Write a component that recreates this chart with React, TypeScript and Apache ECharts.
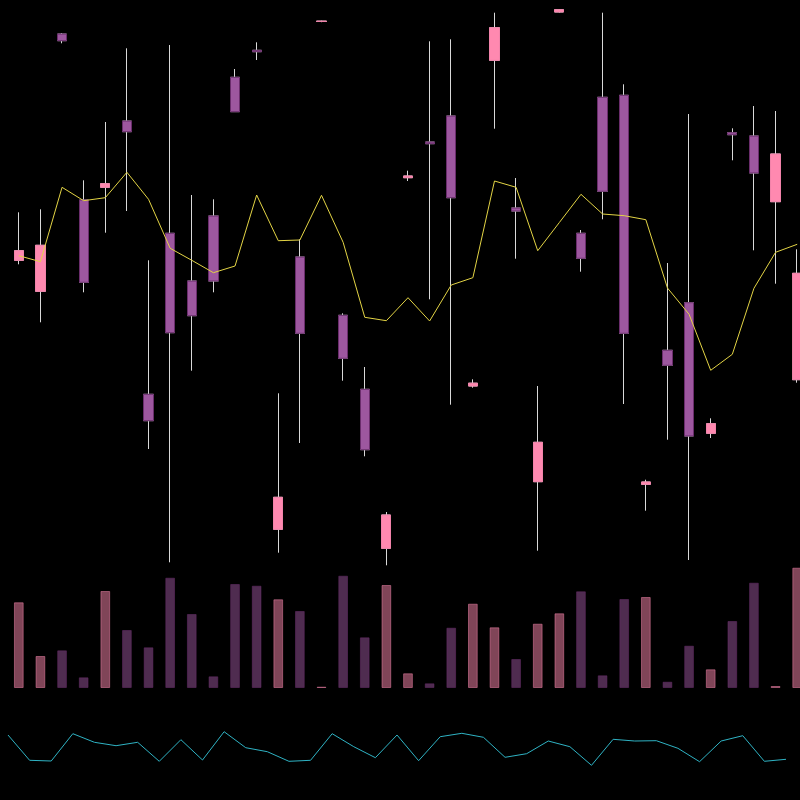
import React, { useEffect, useRef } from "react";
import * as echarts from "echarts";

const categories = [
  "1", "2", "3", "4", "5", "6", "7", "8", "9", "10", "11", "12", "13", "14", "15", "16", "17", "18", "19",
  "20", "21", "22", "23", "24", "25", "26", "27", "28", "29", "30", "31", "32", "33", "34", "35", "36", "37",
];

const opens = [339.7, 308.7, 566, 400, 412.7, 479, 205.7, 366.7, 319, 384, 522.7, 549.7, 70.7, 343, 578.5, 284.7, 210.7, 51.7, 422.3, 458, 484, 214, 539.7, 392, 118.3, 588, 366.7, 502.7, 504.7, 115.7, 249.7, 297.3, 166.7, 467.3, 464, 398.3, 220.3];
const closes = [349.3, 354.7, 559.3, 317.7, 416.3, 468.3, 179.3, 267.3, 284.3, 319, 488.3, 548.3, 102.7, 266.7, 578.9, 241.7, 150.3, 85, 424, 456.3, 402.3, 216.8, 572.3, 389, 157.7, 590.3, 341.7, 408.7, 266.7, 118, 234.7, 164, 176.3, 465.3, 427, 446, 326.7];
const lows = [335.7, 277.7, 556.7, 307.7, 367.3, 389, 151, 37.7, 229.3, 307.7, 488, 540, 47.3, 157, 577.8, 219.3, 143.7, 34.7, 419, 300.7, 195.3, 212.3, 471.3, 341.3, 49.3, 587.5, 328.3, 380.7, 196, 89.3, 160.3, 40, 162, 439.7, 349.7, 316.3, 217.3];
const highs = [387.7, 390.7, 567, 419.7, 478, 551.7, 339.7, 555, 405, 400.7, 531, 557.7, 206.7, 360.7, 579.3, 286.7, 233, 88, 429.3, 558.7, 560.7, 220.7, 587.3, 422, 214, 591, 370, 587.3, 515.7, 120.3, 337, 486, 181.7, 471.7, 494, 489, 350.7];

const maLine = [344.3, 338.3, 412.7, 399.3, 402.3, 427.7, 400.7, 351.7, 339.7, 327.3, 334, 405, 359.3, 360, 404.7, 357.7, 282.7, 279.3, 302.3, 279, 315, 322.3, 419, 412.7, 349.3, 377.5, 405.7, 386, 384.3, 380.3, 312, 285.7, 229.7, 245.7, 311.7, 347.7, 355.7];

const volumes = [85.7, 32, 37.7, 10.7, 97, 58, 40.7, 110.3, 74, 11.7, 104, 102.3, 88.7, 77, 1.3, 112.3, 50.7, 103, 14.7, 4.7, 60.3, 84.3, 60.7, 29, 64.3, 74.7, 96.7, 12.7, 89, 91, 6.3, 42.3, 18.7, 67, 105.3, 2, 120.3];

const indicator = [65, 39.7, 39, 66.3, 57.7, 54.3, 57.7, 38.7, 60.3, 40, 68.3, 52.3, 48.3, 38.7, 39.7, 66.3, 53.3, 42.3, 65, 39.3, 63.3, 66.7, 62.7, 42.7, 46.3, 59, 53.3, 34.7, 60.7, 59, 59.3, 51.7, 38.3, 59, 64.3, 38.7, 40.7];

const UP = "#ff89b0";
const UP_BORDER = "#f283aa";
const DOWN = "#9d579f";
const DOWN_BORDER = "#6a2d6c";
const WICK = "#d9d9d9";

export default function App() {
  const ref = useRef<HTMLDivElement>(null);

  useEffect(() => {
    document.body.style.margin = "0";
    document.body.style.background = "#000";
    document.documentElement.style.background = "#000";
    if (!ref.current) return;
    const chart = echarts.init(ref.current, null, { renderer: "svg" });

    const fullData = categories.map((_, i) => [opens[i], closes[i], lows[i], highs[i]]);
    const bodyData = categories.map((_, i) => [
      opens[i],
      closes[i],
      Math.min(opens[i], closes[i]),
      Math.max(opens[i], closes[i]),
    ]);
    const volData = volumes.map((v, i) => ({
      value: v,
      itemStyle: closes[i] >= opens[i]
        ? { color: UP, borderColor: UP_BORDER, opacity: 0.5 }
        : { color: DOWN, borderColor: DOWN_BORDER, opacity: 0.5 },
    }));

    chart.setOption({
      animation: false,
      backgroundColor: "#000",
      grid: [
        { left: 8, right: -8, top: 8, height: 558, outerBoundsMode: "none", containLabel: false },
        { left: 8, right: -8, top: 568, height: 120, outerBoundsMode: "none", containLabel: false },
        { left: 8, right: 14, top: 700, height: 100, outerBoundsMode: "none", containLabel: false },
      ],
      xAxis: [
        { type: "category", data: categories, gridIndex: 0, show: false, boundaryGap: true },
        { type: "category", data: categories, gridIndex: 1, show: false, boundaryGap: true },
        { type: "category", data: categories, gridIndex: 2, show: false, boundaryGap: false },
      ],
      yAxis: [
        { type: "value", gridIndex: 0, min: 34, max: 592, show: false, splitLine: { show: false } },
        { type: "value", gridIndex: 1, min: 0, max: 120, show: false, splitLine: { show: false } },
        { type: "value", gridIndex: 2, min: 0, max: 100, show: false, splitLine: { show: false } },
      ],
      series: [
        {
          type: "candlestick",
          xAxisIndex: 0,
          yAxisIndex: 0,
          data: fullData,
          barWidth: "45%",
          itemStyle: {
            color: "transparent",
            color0: "transparent",
            borderColor: WICK,
            borderColor0: WICK,
            borderColorDoji: WICK,
            borderWidth: 1,
          },
        },
        {
          type: "candlestick",
          xAxisIndex: 0,
          yAxisIndex: 0,
          data: bodyData,
          barWidth: "45%",
          itemStyle: {
            color: UP,
            color0: DOWN,
            borderColor: UP_BORDER,
            borderColor0: DOWN_BORDER,
            borderWidth: 1,
          },
        },
        {
          type: "line",
          xAxisIndex: 0,
          yAxisIndex: 0,
          data: maLine,
          symbol: "none",
          lineStyle: { color: "#e3d445", width: 1 },
        },
        {
          type: "bar",
          xAxisIndex: 1,
          yAxisIndex: 1,
          data: volData,
          barWidth: "45%",
          itemStyle: { borderWidth: 1 },
        },
        {
          type: "line",
          xAxisIndex: 2,
          yAxisIndex: 2,
          data: indicator,
          symbol: "none",
          lineStyle: { color: "#2fb3c4", width: 1 },
        },
      ],
    });

    return () => chart.dispose();
  }, []);

  return <div ref={ref} style={{ width: 800, height: 800, background: "#000" }} />;
}
